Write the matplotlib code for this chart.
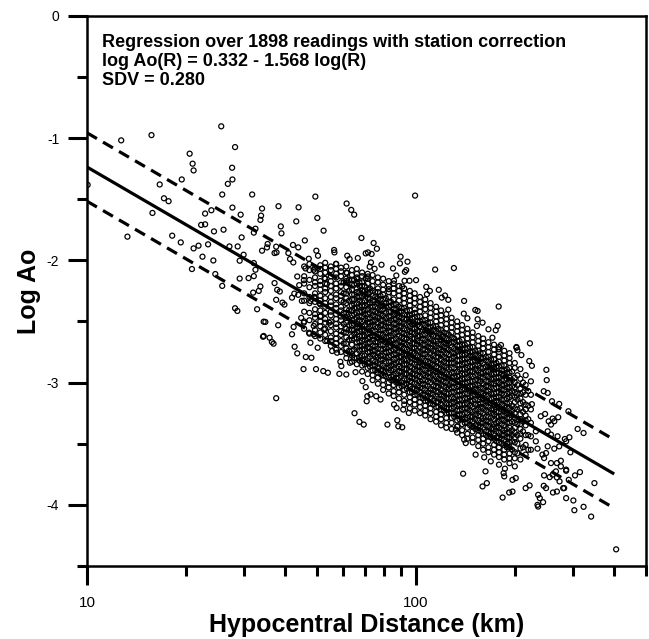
import numpy as np
import matplotlib.pyplot as plt
from matplotlib.ticker import FixedLocator, FixedFormatter, NullFormatter, MultipleLocator, FormatStrFormatter

plt.rcParams['font.family'] = ['Liberation Sans', 'DejaVu Sans']
plt.rcParams['axes.unicode_minus'] = False

# regression from the caption
intercept = 0.332
slope = -1.568
sdv = 0.280
line_dist = [10, 400]

# readings as (log10 distance km, log Ao)
upper_left_pts = [
    (1.104, -1.018), (1.196, -0.975), (1.408, -0.903), (1.450, -1.073), (1.312, -1.127),
    (1.321, -1.209), (1.324, -1.264), (1.441, -1.242), (1.288, -1.338), (1.221, -1.379),
    (1.442, -1.338), (1.428, -1.374), (1.411, -1.461), (1.502, -1.461), (1.234, -1.492),
    (1.248, -1.516), (1.199, -1.612), (1.442, -1.568), (1.378, -1.590), (1.359, -1.617),
    (1.467, -1.626), (1.532, -1.576), (1.529, -1.634), (1.527, -1.669), (1.347, -1.710),
    (1.359, -1.705), (1.386, -1.763), (1.415, -1.749), (1.512, -1.741), (1.507, -1.773),
    (1.123, -1.806), (1.259, -1.798), (1.285, -1.853), (1.339, -1.880), (1.324, -1.902),
    (1.368, -1.869), (1.433, -1.886), (1.458, -1.886), (1.470, -1.812), (1.351, -1.970),
    (1.384, -2.001), (1.464, -2.003), (1.476, -1.954), (1.507, -2.022), (1.512, -2.077),
    (1.507, -2.129), (1.491, -2.145), (1.319, -2.071), (1.390, -2.112), (1.464, -2.149),
    (1.411, -2.209), (1.505, -2.264), (1.522, -2.250), (1.527, -2.214), (1.450, -2.392),
    (1.457, -2.414), (1.517, -2.400), (1.537, -2.502), (1.535, -2.625), (1.532, -1.921),
    (1.002, -1.382),
]

upper_mid_pts = [
    (1.694, -1.478), (1.582, -1.557), (1.643, -1.566), (1.789, -1.535), (1.803, -1.587),
    (1.812, -1.626), (1.636, -1.681), (1.700, -1.653), (1.589, -1.722), (1.591, -1.779),
    (1.719, -1.757), (1.834, -1.817), (1.662, -1.837), (1.549, -1.866), (1.547, -1.894),
    (1.575, -1.888), (1.576, -1.935), (1.570, -1.940), (1.626, -1.874), (1.642, -1.894),
    (1.612, -1.940), (1.617, -1.989), (1.627, -2.017), (1.697, -1.921), (1.702, -1.962),
    (1.751, -1.915), (1.752, -1.935), (1.871, -1.858), (1.881, -1.905), (1.854, -1.935),
    (1.865, -1.948), (1.847, -1.943), (1.791, -1.962), (1.798, -1.989), (1.823, -1.981),
    (1.674, -1.987), (1.757, -2.028), (1.863, -2.017), (1.859, -2.052), (1.874, -2.069),
    (1.895, -2.036), (1.953, -1.970), (1.974, -2.011), (1.951, -2.025), (1.930, -2.066),
    (1.940, -2.124), (1.664, -2.066), (1.689, -2.077), (1.639, -2.132), (1.645, -2.203),
    (1.659, -2.162), (1.722, -2.145), (1.729, -2.195), (1.790, -2.104), (1.821, -2.153),
    (1.847, -2.145), (1.854, -2.132), (1.965, -2.167), (1.958, -2.214), (1.570, -2.186),
    (1.578, -2.241), (1.586, -2.255), (1.630, -2.272), (1.623, -2.305), (1.642, -2.282),
    (1.653, -2.332), (1.575, -2.323), (1.594, -2.346), (1.600, -2.362), (1.691, -2.299),
    (1.679, -2.332), (1.707, -2.351), (1.542, -2.504), (1.628, -2.545), (1.623, -2.605),
    (1.651, -2.471), (1.659, -2.510), (1.689, -2.537), (1.720, -2.564), (1.710, -2.455),
    (1.736, -2.510), (1.997, -1.470), (1.933, -2.167), (1.917, -2.236), (1.966, -2.094),
    (1.970, -2.080), (1.980, -2.167), (2.000, -2.162), (2.058, -2.075), (2.115, -2.063),
    (2.031, -2.217), (2.042, -2.250), (2.033, -2.277), (2.069, -2.241), (2.078, -2.305),
    (2.088, -2.288), (2.098, -2.323), (2.146, -2.332), (2.098, -2.403), (2.180, -2.406),
    (2.187, -2.414), (2.251, -2.378), (2.145, -2.436), (2.156, -2.474), (2.187, -2.482),
    (2.202, -2.510), (2.185, -2.537), (2.220, -2.564), (2.242, -2.572), (2.248, -2.537),
    (2.232, -2.633), (2.258, -2.693), (2.251, -2.728), (2.305, -2.715), (2.308, -2.736),
]

lower_left_pts = [
    (1.581, -2.531), (1.537, -2.619), (1.555, -2.633), (1.562, -2.668), (1.567, -2.682),
    (1.631, -2.707), (1.639, -2.761), (1.665, -2.791), (1.682, -2.797), (1.658, -2.890),
    (1.696, -2.890), (1.718, -2.906), (1.732, -2.920), (1.767, -2.929), (1.788, -2.934),
    (1.575, -3.128), (1.679, -2.674), (1.701, -2.715), (1.730, -2.660), (1.745, -2.742),
    (1.760, -2.756), (1.799, -2.838), (1.770, -2.830), (1.773, -2.865), (1.813, -3.251),
    (1.828, -3.322), (1.841, -3.344), (1.913, -3.344), (1.943, -3.309), (1.946, -3.358),
    (1.958, -3.366), (1.816, -2.915), (1.837, -2.988), (1.847, -3.038), (1.852, -3.112),
    (1.850, -3.153), (1.862, -3.098), (1.879, -3.112), (1.892, -3.139), (1.933, -3.180),
    (1.941, -3.208), (1.961, -3.221), (1.978, -3.249), (1.675, -2.592), (1.689, -2.605),
]

lower_right_pts = [
    (2.346, -2.679), (2.305, -2.709), (2.320, -2.775), (2.344, -2.824), (2.352, -2.863),
    (2.396, -2.896), (2.397, -2.980), (2.388, -3.071), (2.400, -3.085), (2.413, -3.153),
    (2.435, -3.175), (2.463, -3.235), (2.379, -3.276), (2.392, -3.257), (2.403, -3.317),
    (2.415, -3.295), (2.432, -3.284), (2.352, -3.177), (2.491, -3.380), (2.509, -3.413),
    (2.452, -3.462), (2.469, -3.571), (2.498, -3.733), (2.542, -3.823), (2.456, -3.722),
    (2.464, -3.796), (2.447, -3.864), (2.456, -3.946), (2.478, -3.965), (2.509, -4.017),
    (2.481, -4.045), (2.532, -4.097), (2.608, -4.365), (2.415, -3.754), (2.428, -3.777),
    (2.436, -3.809), (2.450, -3.864), (2.389, -3.760), (2.406, -3.774), (2.388, -3.845),
    (2.395, -3.864), (2.416, -3.900), (2.428, -3.892), (2.371, -3.919), (2.376, -3.946),
    (2.371, -4.015), (2.386, -3.979), (2.369, -4.001), (2.333, -3.864), (2.345, -3.842),
    (2.263, -3.941), (2.283, -3.900), (2.293, -3.892), (2.202, -3.850), (2.215, -3.823),
    (2.268, -3.768), (2.266, -3.741), (2.143, -3.746), (2.211, -3.727), (2.293, -3.796),
    (2.303, -3.782), (2.270, -3.705), (2.300, -3.686), (2.151, -3.495), (2.181, -3.590),
    (2.207, -3.612), (2.227, -3.645), (2.252, -3.672), (2.121, -3.385), (2.126, -3.358),
    (2.146, -3.467), (2.425, -3.727), (2.440, -3.686), (2.456, -3.713), (2.483, -3.760),
    (2.389, -3.618), (2.410, -3.659), (2.428, -3.659), (2.440, -3.640), (2.384, -3.590),
    (2.466, -3.448), (2.456, -3.481), (2.435, -3.522), (2.420, -3.541), (2.364, -3.481),
    (2.369, -3.541), (2.400, -3.522), (2.395, -3.577), (2.364, -3.399), (2.410, -3.426),
    (2.430, -3.440), (2.410, -3.344), (2.420, -3.317), (2.400, -3.399),
]

# dense central cloud, one column of log Ao readings per distance
core_log_r = [
    1.660, 1.676, 1.693, 1.709, 1.724, 1.741, 1.757, 1.772, 1.788, 1.805, 1.820,
    1.836, 1.853, 1.868, 1.884, 1.900, 1.917, 1.932, 1.948, 1.964, 1.981, 1.996,
    2.012, 2.028, 2.044, 2.061, 2.076, 2.092, 2.108, 2.125, 2.140, 2.156, 2.172,
    2.189, 2.204, 2.220, 2.237, 2.252, 2.268, 2.284, 2.300, 2.317, 2.333, 2.349,
]
core_log_ao = [
    [-2.05, -2.13, -2.19, -2.27, -2.33, -2.42, -2.50, -2.56],
    [-2.03, -2.08, -2.16, -2.22, -2.30, -2.35, -2.43, -2.49, -2.60],
    [-2.06, -2.09, -2.14, -2.18, -2.21, -2.27, -2.31, -2.34, -2.40, -2.44, -2.47, -2.52, -2.57, -2.62],
    [-2.04, -2.07, -2.11, -2.17, -2.20, -2.24, -2.29, -2.33, -2.36, -2.41, -2.46, -2.50, -2.54, -2.59, -2.64],
    [-2.02, -2.06, -2.10, -2.15, -2.19, -2.23, -2.26, -2.31, -2.35, -2.38, -2.43, -2.48, -2.51, -2.56,
     -2.61, -2.66],
    [-2.05, -2.08, -2.13, -2.17, -2.21, -2.25, -2.30, -2.34, -2.37, -2.42, -2.45, -2.50, -2.53, -2.58,
     -2.63, -2.66, -2.70],
    [-2.03, -2.07, -2.11, -2.14, -2.19, -2.23, -2.28, -2.31, -2.36, -2.39, -2.44, -2.48, -2.52, -2.55,
     -2.60, -2.64, -2.68, -2.73],
    [-2.06, -2.09, -2.13, -2.18, -2.21, -2.26, -2.29, -2.33, -2.38, -2.41, -2.46, -2.49, -2.54, -2.58,
     -2.61, -2.66, -2.70, -2.75],
    [-2.05, -2.10, -2.15, -2.17, -2.22, -2.27, -2.31, -2.35, -2.40, -2.43, -2.47, -2.51, -2.56, -2.59,
     -2.63, -2.68, -2.72, -2.76, -2.80],
    [-2.08, -2.12, -2.16, -2.20, -2.24, -2.28, -2.32, -2.37, -2.41, -2.45, -2.49, -2.53, -2.57, -2.62,
     -2.65, -2.69, -2.74, -2.78, -2.83],
    [-2.07, -2.11, -2.14, -2.19, -2.23, -2.26, -2.30, -2.35, -2.39, -2.43, -2.47, -2.52, -2.55, -2.59,
     -2.64, -2.67, -2.71, -2.76, -2.80, -2.85],
    [-2.10, -2.13, -2.18, -2.21, -2.25, -2.29, -2.34, -2.37, -2.42, -2.46, -2.50, -2.54, -2.57, -2.62,
     -2.66, -2.70, -2.73, -2.78, -2.82, -2.86, -2.91],
    [-2.11, -2.15, -2.19, -2.24, -2.27, -2.31, -2.36, -2.40, -2.44, -2.48, -2.51, -2.56, -2.60, -2.64,
     -2.68, -2.71, -2.75, -2.80, -2.84, -2.88, -2.93],
    [-2.12, -2.17, -2.21, -2.25, -2.29, -2.33, -2.38, -2.41, -2.45, -2.50, -2.53, -2.58, -2.62, -2.65,
     -2.70, -2.74, -2.77, -2.82, -2.86, -2.90, -2.94, -2.98],
    [-2.14, -2.18, -2.23, -2.26, -2.31, -2.35, -2.39, -2.43, -2.47, -2.51, -2.55, -2.60, -2.63, -2.67,
     -2.72, -2.76, -2.79, -2.84, -2.88, -2.92, -2.96, -3.01],
    [-2.15, -2.20, -2.24, -2.28, -2.32, -2.37, -2.40, -2.45, -2.49, -2.53, -2.57, -2.61, -2.65, -2.69,
     -2.73, -2.78, -2.81, -2.86, -2.90, -2.94, -2.98, -3.02, -3.06],
    [-2.17, -2.21, -2.26, -2.30, -2.34, -2.38, -2.42, -2.46, -2.51, -2.55, -2.58, -2.63, -2.67, -2.71,
     -2.75, -2.79, -2.83, -2.88, -2.92, -2.96, -3.00, -3.04, -3.09],
    [-2.19, -2.23, -2.27, -2.32, -2.36, -2.40, -2.44, -2.48, -2.52, -2.56, -2.60, -2.65, -2.69, -2.73,
     -2.77, -2.81, -2.85, -2.89, -2.94, -2.98, -3.02, -3.07, -3.11],
    [-2.21, -2.25, -2.29, -2.33, -2.38, -2.42, -2.46, -2.50, -2.54, -2.58, -2.62, -2.66, -2.71, -2.75,
     -2.79, -2.83, -2.87, -2.91, -2.96, -3.00, -3.04, -3.08, -3.13],
    [-2.23, -2.27, -2.31, -2.35, -2.39, -2.44, -2.48, -2.52, -2.56, -2.60, -2.64, -2.68, -2.72, -2.77,
     -2.81, -2.85, -2.89, -2.93, -2.97, -3.02, -3.06, -3.10, -3.15, -3.18],
    [-2.25, -2.29, -2.33, -2.37, -2.41, -2.45, -2.50, -2.54, -2.58, -2.62, -2.66, -2.70, -2.74, -2.78,
     -2.83, -2.87, -2.91, -2.95, -2.99, -3.03, -3.08, -3.12, -3.16, -3.21],
    [-2.27, -2.31, -2.35, -2.40, -2.43, -2.47, -2.52, -2.56, -2.60, -2.64, -2.68, -2.72, -2.76, -2.81,
     -2.85, -2.89, -2.93, -2.97, -3.01, -3.05, -3.10, -3.14, -3.18, -3.23],
    [-2.30, -2.34, -2.38, -2.42, -2.46, -2.50, -2.54, -2.58, -2.62, -2.67, -2.71, -2.75, -2.79, -2.83,
     -2.87, -2.91, -2.95, -2.99, -3.04, -3.08, -3.12, -3.16, -3.20, -3.25],
    [-2.32, -2.36, -2.40, -2.45, -2.49, -2.53, -2.57, -2.61, -2.65, -2.69, -2.73, -2.77, -2.82, -2.86,
     -2.90, -2.94, -2.98, -3.02, -3.06, -3.10, -3.15, -3.19, -3.23, -3.27],
    [-2.35, -2.39, -2.43, -2.47, -2.51, -2.55, -2.59, -2.64, -2.68, -2.72, -2.76, -2.80, -2.84, -2.88,
     -2.92, -2.96, -3.00, -3.05, -3.09, -3.13, -3.17, -3.21, -3.25, -3.30],
    [-2.38, -2.42, -2.46, -2.50, -2.54, -2.58, -2.62, -2.66, -2.70, -2.74, -2.79, -2.83, -2.87, -2.91,
     -2.95, -2.99, -3.03, -3.07, -3.11, -3.16, -3.20, -3.24, -3.28, -3.32],
    [-2.41, -2.45, -2.49, -2.53, -2.57, -2.61, -2.65, -2.69, -2.73, -2.77, -2.81, -2.85, -2.89, -2.94,
     -2.98, -3.02, -3.06, -3.10, -3.14, -3.18, -3.22, -3.26, -3.30, -3.35],
    [-2.44, -2.48, -2.52, -2.56, -2.60, -2.64, -2.68, -2.72, -2.76, -2.80, -2.84, -2.88, -2.92, -2.96,
     -3.00, -3.04, -3.09, -3.13, -3.17, -3.21, -3.25, -3.29, -3.33, -3.37],
    [-2.47, -2.51, -2.55, -2.59, -2.63, -2.67, -2.71, -2.75, -2.80, -2.84, -2.88, -2.92, -2.96, -3.00,
     -3.04, -3.08, -3.12, -3.17, -3.21, -3.25, -3.29, -3.33, -3.38],
    [-2.50, -2.54, -2.58, -2.62, -2.66, -2.70, -2.74, -2.78, -2.82, -2.86, -2.91, -2.95, -2.99, -3.03,
     -3.07, -3.11, -3.15, -3.19, -3.23, -3.27, -3.31, -3.36, -3.41],
    [-2.53, -2.57, -2.61, -2.65, -2.69, -2.73, -2.77, -2.81, -2.85, -2.89, -2.93, -2.97, -3.01, -3.06,
     -3.10, -3.14, -3.18, -3.22, -3.26, -3.30, -3.34, -3.39, -3.43],
    [-2.56, -2.60, -2.64, -2.68, -2.72, -2.76, -2.80, -2.84, -2.88, -2.92, -2.96, -3.00, -3.04, -3.09,
     -3.13, -3.17, -3.21, -3.25, -3.29, -3.33, -3.37, -3.42, -3.46],
    [-2.59, -2.63, -2.67, -2.71, -2.75, -2.79, -2.83, -2.87, -2.91, -2.95, -2.99, -3.03, -3.07, -3.11,
     -3.15, -3.20, -3.24, -3.28, -3.32, -3.36, -3.40, -3.45, -3.49],
    [-2.62, -2.66, -2.70, -2.74, -2.78, -2.82, -2.86, -2.90, -2.94, -2.98, -3.02, -3.06, -3.10, -3.14,
     -3.18, -3.22, -3.27, -3.31, -3.35, -3.39, -3.43, -3.47, -3.52],
    [-2.64, -2.68, -2.72, -2.76, -2.80, -2.84, -2.88, -2.92, -2.96, -3.01, -3.05, -3.09, -3.13, -3.17,
     -3.21, -3.25, -3.29, -3.33, -3.37, -3.42, -3.46, -3.50, -3.55],
    [-2.67, -2.71, -2.75, -2.79, -2.83, -2.87, -2.91, -2.95, -2.99, -3.03, -3.07, -3.11, -3.16, -3.20,
     -3.24, -3.28, -3.32, -3.36, -3.40, -3.44, -3.48, -3.53, -3.57],
    [-2.69, -2.73, -2.77, -2.81, -2.85, -2.89, -2.93, -2.97, -3.01, -3.05, -3.09, -3.13, -3.18, -3.22,
     -3.26, -3.30, -3.34, -3.38, -3.42, -3.46, -3.51, -3.55, -3.59],
    [-2.71, -2.75, -2.79, -2.83, -2.87, -2.92, -2.96, -3.00, -3.04, -3.08, -3.12, -3.16, -3.20, -3.24,
     -3.28, -3.32, -3.37, -3.41, -3.45, -3.49, -3.53, -3.57, -3.61],
    [-2.74, -2.78, -2.82, -2.86, -2.90, -2.94, -2.98, -3.02, -3.06, -3.10, -3.14, -3.19, -3.23, -3.27,
     -3.31, -3.35, -3.39, -3.43, -3.47, -3.51, -3.55, -3.59, -3.63],
    [-2.76, -2.80, -2.84, -2.88, -2.92, -2.96, -3.00, -3.04, -3.08, -3.12, -3.17, -3.21, -3.25, -3.29,
     -3.33, -3.37, -3.41, -3.45, -3.49, -3.53, -3.58, -3.62, -3.66],
    [-2.84, -2.88, -2.96, -3.00, -3.04, -3.08, -3.12, -3.16, -3.21, -3.25, -3.29, -3.33,
     -3.37, -3.41, -3.45, -3.49, -3.57, -3.62],
    [-2.89, -2.97, -3.05, -3.09, -3.13, -3.17, -3.21, -3.26, -3.30, -3.34, -3.38,
     -3.42, -3.46, -3.54, -3.63],
    [-2.94, -3.02, -3.10, -3.18, -3.22, -3.27, -3.31, -3.35, -3.43, -3.51, -3.59],
    [-2.99, -3.10, -3.22, -3.33, -3.44, -3.55],
]

# blackest part of the cloud, between the columns above
inner_log_r = [
    1.780, 1.796, 1.812, 1.828, 1.844, 1.860, 1.876, 1.892, 1.908, 1.924, 1.940, 1.956,
    1.972, 1.988, 2.004, 2.020, 2.036, 2.052, 2.068, 2.084, 2.100, 2.116, 2.132, 2.148,
    2.164, 2.180, 2.196, 2.212, 2.228, 2.244, 2.260, 2.276, 2.292, 2.308, 2.325, 2.341,
]
inner_log_ao = [
    [-2.18, -2.27, -2.34, -2.43, -2.52, -2.59, -2.68],
    [-2.16, -2.25, -2.33, -2.41, -2.44, -2.53, -2.57, -2.65, -2.74],
    [-2.16, -2.20, -2.28, -2.32, -2.36, -2.39, -2.44, -2.48, -2.52, -2.57, -2.60, -2.64, -2.73, -2.80],
    [-2.18, -2.21, -2.26, -2.30, -2.33, -2.38, -2.42, -2.46, -2.49, -2.54, -2.58, -2.62, -2.67, -2.70, -2.74, -2.79, -2.82],
    [-2.21, -2.25, -2.28, -2.33, -2.37, -2.41, -2.44, -2.49, -2.53, -2.57, -2.62, -2.65, -2.69, -2.73, -2.78, -2.81, -2.85],
    [-2.23, -2.26, -2.31, -2.35, -2.38, -2.43, -2.47, -2.51, -2.54, -2.59, -2.63, -2.67, -2.72, -2.75, -2.79, -2.84, -2.87],
    [-2.26, -2.30, -2.33, -2.38, -2.42, -2.46, -2.49, -2.54, -2.58, -2.62, -2.67, -2.70, -2.74, -2.78, -2.83, -2.86, -2.90],
    [-2.29, -2.32, -2.37, -2.41, -2.44, -2.49, -2.53, -2.57, -2.60, -2.65, -2.69, -2.73, -2.78, -2.81, -2.85, -2.90, -2.93],
    [-2.31, -2.35, -2.38, -2.43, -2.47, -2.51, -2.54, -2.59, -2.63, -2.67, -2.72, -2.75, -2.79, -2.83, -2.88, -2.91, -2.95],
    [-2.34, -2.37, -2.42, -2.46, -2.49, -2.54, -2.58, -2.62, -2.65, -2.70, -2.74, -2.78, -2.83, -2.86, -2.90, -2.95, -2.98],
    [-2.36, -2.40, -2.43, -2.48, -2.52, -2.56, -2.59, -2.64, -2.68, -2.72, -2.77, -2.80, -2.84, -2.88, -2.93, -2.96, -3.00],
    [-2.39, -2.42, -2.47, -2.51, -2.54, -2.59, -2.63, -2.67, -2.70, -2.75, -2.79, -2.83, -2.88, -2.91, -2.95, -3.00, -3.03],
    [-2.41, -2.45, -2.48, -2.53, -2.57, -2.61, -2.64, -2.69, -2.73, -2.77, -2.82, -2.85, -2.89, -2.93, -2.98, -3.01, -3.05],
    [-2.44, -2.47, -2.52, -2.56, -2.59, -2.64, -2.68, -2.72, -2.75, -2.80, -2.84, -2.88, -2.93, -2.96, -3.00, -3.05, -3.08],
    [-2.46, -2.50, -2.53, -2.58, -2.62, -2.66, -2.69, -2.74, -2.78, -2.82, -2.87, -2.90, -2.94, -2.98, -3.03, -3.06, -3.10],
    [-2.49, -2.52, -2.57, -2.61, -2.64, -2.69, -2.73, -2.77, -2.80, -2.85, -2.89, -2.93, -2.98, -3.01, -3.05, -3.10, -3.13],
    [-2.51, -2.55, -2.58, -2.63, -2.67, -2.71, -2.74, -2.79, -2.83, -2.87, -2.92, -2.95, -2.99, -3.03, -3.08, -3.11, -3.15],
    [-2.54, -2.57, -2.62, -2.66, -2.69, -2.74, -2.78, -2.82, -2.85, -2.90, -2.94, -2.98, -3.03, -3.06, -3.10, -3.15, -3.18],
    [-2.56, -2.60, -2.63, -2.68, -2.72, -2.76, -2.79, -2.84, -2.88, -2.92, -2.97, -3.00, -3.04, -3.08, -3.13, -3.16, -3.20],
    [-2.59, -2.62, -2.67, -2.71, -2.74, -2.79, -2.83, -2.87, -2.90, -2.95, -2.99, -3.03, -3.08, -3.11, -3.15, -3.20, -3.23],
    [-2.61, -2.65, -2.68, -2.73, -2.77, -2.81, -2.84, -2.89, -2.93, -2.97, -3.02, -3.05, -3.09, -3.13, -3.18, -3.21, -3.25],
    [-2.64, -2.67, -2.72, -2.76, -2.79, -2.84, -2.88, -2.92, -2.95, -3.00, -3.04, -3.08, -3.13, -3.16, -3.20, -3.25, -3.28],
    [-2.66, -2.70, -2.73, -2.78, -2.82, -2.86, -2.89, -2.94, -2.98, -3.02, -3.07, -3.10, -3.14, -3.18, -3.23, -3.26, -3.30],
    [-2.69, -2.72, -2.77, -2.81, -2.84, -2.89, -2.93, -2.97, -3.00, -3.05, -3.09, -3.13, -3.18, -3.21, -3.25, -3.30, -3.33],
    [-2.71, -2.75, -2.78, -2.83, -2.87, -2.91, -2.94, -2.99, -3.03, -3.07, -3.12, -3.15, -3.19, -3.23, -3.28, -3.31, -3.35],
    [-2.74, -2.77, -2.82, -2.86, -2.89, -2.94, -2.98, -3.02, -3.05, -3.10, -3.14, -3.18, -3.23, -3.26, -3.30, -3.35, -3.38],
    [-2.76, -2.80, -2.83, -2.88, -2.92, -2.96, -2.99, -3.04, -3.08, -3.12, -3.17, -3.20, -3.24, -3.28, -3.33, -3.36, -3.40],
    [-2.79, -2.82, -2.87, -2.91, -2.94, -2.99, -3.03, -3.07, -3.10, -3.15, -3.19, -3.23, -3.28, -3.31, -3.35, -3.40, -3.43],
    [-2.81, -2.85, -2.88, -2.93, -2.97, -3.01, -3.04, -3.09, -3.13, -3.17, -3.22, -3.25, -3.29, -3.33, -3.38, -3.41, -3.45],
    [-2.84, -2.87, -2.92, -2.96, -2.99, -3.04, -3.08, -3.12, -3.15, -3.20, -3.24, -3.28, -3.33, -3.36, -3.40, -3.45, -3.48],
    [-2.86, -2.90, -2.93, -2.98, -3.02, -3.06, -3.09, -3.14, -3.18, -3.22, -3.27, -3.30, -3.34, -3.38, -3.43, -3.46, -3.50],
    [-2.89, -2.92, -2.97, -3.01, -3.04, -3.09, -3.13, -3.17, -3.20, -3.25, -3.29, -3.33, -3.38, -3.41, -3.45, -3.50, -3.53],
    [-2.91, -2.98, -3.03, -3.07, -3.11, -3.19, -3.23, -3.27, -3.32, -3.39, -3.43, -3.48, -3.55],
    [-2.94, -3.02, -3.09, -3.14, -3.22, -3.30, -3.34, -3.43, -3.50, -3.58],
    [-3.00, -3.08, -3.16, -3.24, -3.32, -3.40, -3.53],
    [-3.07, -3.19, -3.30, -3.43, -3.55],
]

x_ticks = [10, 100]
x_minor = [20, 30, 40, 50, 60, 70, 80, 90, 200, 300, 400, 500]

annotation = ('Regression over 1898 readings with station correction\n'
              'log Ao(R) = 0.332 - 1.568 log(R)\n'
              'SDV = 0.280')

# gather all readings
pts = upper_left_pts + upper_mid_pts + lower_left_pts + lower_right_pts
for lr, col in zip(core_log_r + inner_log_r, core_log_ao + inner_log_ao):
    pts += [(lr, v) for v in col]
pts = np.array(pts)
dist = 10 ** pts[:, 0]
log_ao = pts[:, 1]

fig = plt.figure(figsize=(6.49, 6.39), dpi=100)
ax = fig.add_axes([0.134, 0.1145, 0.8615, 0.8605])

ax.scatter(dist, log_ao, s=13, facecolors='none', edgecolors='black', linewidths=0.9, zorder=2)

r = np.array(line_dist, dtype=float)
fit = intercept + slope * np.log10(r)
ax.plot(r, fit, color='black', lw=2.3, zorder=3, solid_capstyle='butt')
ax.plot(r, fit + sdv, color='black', lw=2.3, dashes=(3.6, 2.2), zorder=3)
ax.plot(r, fit - sdv, color='black', lw=2.3, dashes=(3.6, 2.2), zorder=3)

ax.set_xscale('log')
ax.set_xlim(10, 500)
ax.set_ylim(-4.5, 0)

ax.xaxis.set_major_locator(FixedLocator(x_ticks))
ax.xaxis.set_major_formatter(FixedFormatter([str(t) for t in x_ticks]))
ax.xaxis.set_minor_locator(FixedLocator(x_minor))
ax.xaxis.set_minor_formatter(NullFormatter())
ax.yaxis.set_major_locator(MultipleLocator(1))
ax.yaxis.set_minor_locator(MultipleLocator(0.5))
ax.yaxis.set_major_formatter(FormatStrFormatter('%d'))

ax.tick_params(which='major', length=14, width=2.2, direction='out')
ax.tick_params(which='minor', length=7, width=2.2, direction='out')
ax.tick_params(axis='x', which='major', labelsize=11, pad=8)
ax.tick_params(axis='y', which='major', labelsize=10, pad=6)
for s in ax.spines.values():
    s.set_linewidth(1.8)

ax.set_xlabel('Hypocentral Distance (km)', fontsize=18, fontweight='bold', labelpad=2)
ax.set_ylabel('Log Ao', fontsize=18, fontweight='bold', labelpad=4)

ax.text(0.027, 0.967, annotation, transform=ax.transAxes, ha='left', va='top',
        fontsize=13, fontweight='bold', linespacing=1.15)

fig.savefig('out.png', dpi=100)
